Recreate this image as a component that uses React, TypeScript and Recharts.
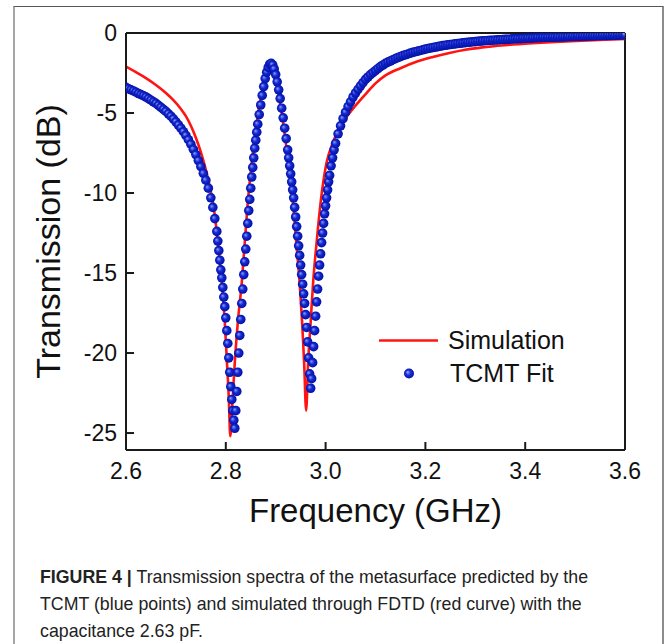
import { ComposedChart, Scatter, Line, XAxis, YAxis, ReferenceLine, Legend } from 'recharts';

// FDTD simulation (red curve)
const simFreq = [
  2.6, 2.62, 2.64, 2.66, 2.68, 2.695, 2.71, 2.72, 2.73, 2.74, 2.75, 2.76, 2.77, 2.778, 2.785, 2.792, 2.798,
  2.802, 2.806, 2.809, 2.812, 2.818, 2.824, 2.832, 2.838, 2.844, 2.852, 2.862, 2.872, 2.88, 2.888,
  2.896, 2.904, 2.912, 2.92, 2.928, 2.936, 2.942, 2.948, 2.953, 2.957, 2.961, 2.965, 2.97, 2.975,
  2.982, 2.99, 3.002, 3.014, 3.028, 3.048, 3.065, 3.082, 3.1, 3.12, 3.15, 3.182, 3.215, 3.248, 3.28,
  3.314, 3.36, 3.414, 3.46, 3.514, 3.56, 3.6,
];
const simDb = [
  -2.1, -2.45, -2.82, -3.25, -3.75, -4.2, -4.75, -5.2, -5.8, -6.55, -7.45, -8.55, -9.9, -11.4, -13.4, -15.6, -18.1,
  -20.4, -22.8, -25.2, -23.8, -20.6, -18.1, -15.6, -13.1, -10.6, -8.1, -5.6, -3.75, -2.75, -2.4,
  -2.65, -3.6, -5.0, -6.8, -8.9, -11.1, -13.4, -15.6, -18.1, -20.6, -23.6, -20.6, -18.1, -15.6,
  -13.1, -10.6, -8.1, -6.9, -5.9, -5.0, -4.35, -3.75, -3.15, -2.65, -2.2, -1.8, -1.5, -1.25, -1.05,
  -0.9, -0.76, -0.64, -0.56, -0.48, -0.42, -0.37,
];

// TCMT fit (blue points)
const fitFreq = [
  2.6, 2.605, 2.61, 2.615, 2.62, 2.625, 2.63, 2.635, 2.64, 2.645,
  2.65, 2.655, 2.66, 2.665, 2.67, 2.675, 2.68, 2.685, 2.69, 2.695,
  2.7, 2.705, 2.71, 2.715, 2.72, 2.725, 2.73, 2.735, 2.74, 2.745,
  2.75, 2.755, 2.76, 2.765, 2.77, 2.774, 2.778, 2.782, 2.784, 2.786,
  2.788, 2.79, 2.792, 2.794, 2.796, 2.798, 2.8, 2.802, 2.804, 2.806,
  2.808, 2.81, 2.812, 2.814, 2.816, 2.818, 2.82, 2.822, 2.824, 2.826,
  2.828, 2.83, 2.832, 2.834, 2.836, 2.838, 2.84, 2.842, 2.844, 2.846,
  2.848, 2.85, 2.852, 2.854, 2.856, 2.858, 2.86, 2.862, 2.864, 2.867,
  2.87, 2.873, 2.876, 2.879, 2.882, 2.885, 2.888, 2.891, 2.894, 2.897,
  2.9, 2.903, 2.906, 2.909, 2.912, 2.915, 2.918, 2.921, 2.924, 2.926,
  2.928, 2.93, 2.932, 2.934, 2.936, 2.938, 2.94, 2.942, 2.944, 2.946,
  2.948, 2.95, 2.952, 2.954, 2.956, 2.958, 2.96, 2.962, 2.964, 2.966,
  2.968, 2.97, 2.972, 2.974, 2.976, 2.978, 2.98, 2.982, 2.984, 2.986,
  2.988, 2.99, 2.992, 2.994, 2.996, 2.998, 3.0, 3.002, 3.004, 3.006,
  3.008, 3.011, 3.014, 3.017, 3.02, 3.025, 3.03, 3.035, 3.04, 3.045,
  3.05, 3.055, 3.06, 3.065, 3.07, 3.075, 3.08, 3.085, 3.09, 3.095,
  3.1, 3.105, 3.11, 3.115, 3.12, 3.125, 3.13, 3.135, 3.14, 3.145,
  3.15, 3.155, 3.16, 3.165, 3.17, 3.175, 3.18, 3.185, 3.19, 3.195,
  3.2, 3.205, 3.21, 3.215, 3.22, 3.225, 3.23, 3.235, 3.24, 3.245,
  3.25, 3.255, 3.26, 3.265, 3.27, 3.275, 3.28, 3.285, 3.29, 3.295,
  3.3, 3.305, 3.31, 3.315, 3.32, 3.325, 3.33, 3.335, 3.34, 3.345,
  3.35, 3.355, 3.36, 3.365, 3.37, 3.375, 3.38, 3.385, 3.39, 3.395,
  3.4, 3.405, 3.41, 3.415, 3.42, 3.425, 3.43, 3.435, 3.44, 3.445,
  3.45, 3.455, 3.46, 3.465, 3.47, 3.475, 3.48, 3.485, 3.49, 3.495,
  3.5, 3.505, 3.51, 3.515, 3.52, 3.525, 3.53, 3.535, 3.54, 3.545,
  3.55, 3.555, 3.56, 3.565, 3.57, 3.575, 3.58, 3.585, 3.59, 3.595,
  3.6,
];
const fitDb = [
  -3.4, -3.48, -3.55, -3.62, -3.7, -3.78, -3.85, -3.92, -4.0, -4.1,
  -4.2, -4.3, -4.4, -4.52, -4.65, -4.77, -4.9, -5.05, -5.2, -5.37,
  -5.55, -5.75, -5.95, -6.17, -6.4, -6.67, -6.95, -7.27, -7.6, -7.97,
  -8.35, -8.77, -9.2, -9.7, -10.3, -10.9, -11.6, -12.4, -13.0, -13.6,
  -14.2, -14.8, -15.3, -15.9, -16.5, -17.1, -17.8, -18.6, -19.4, -20.3,
  -21.2, -22.1, -22.9, -23.6, -24.2, -24.7, -23.6, -22.4, -21.2, -20.0,
  -18.9, -17.9, -16.9, -16.0, -15.1, -14.3, -13.5, -12.7, -11.9, -11.1,
  -10.4, -9.7, -9.0, -8.4, -7.8, -7.2, -6.7, -6.2, -5.7, -5.1,
  -4.5, -3.9, -3.35, -2.85, -2.45, -2.15, -1.95, -1.9, -2.0, -2.25,
  -2.6, -3.05, -3.55, -4.1, -4.7, -5.3, -5.95, -6.6, -7.3, -7.8,
  -8.3, -8.8, -9.3, -9.8, -10.3, -10.9, -11.5, -12.1, -12.7, -13.3,
  -13.9, -14.5, -15.1, -15.7, -16.3, -16.9, -17.6, -18.4, -19.3, -20.3,
  -21.3, -22.2, -21.6, -20.6, -19.6, -18.6, -17.7, -16.8, -16.0, -15.2,
  -14.5, -13.8, -13.1, -12.5, -11.9, -11.3, -10.8, -10.3, -9.8, -9.3,
  -8.9, -8.3, -7.8, -7.3, -6.9, -6.3, -5.8, -5.35, -4.95, -4.6,
  -4.3, -4.0, -3.75, -3.52, -3.3, -3.1, -2.9, -2.75, -2.6, -2.47,
  -2.35, -2.22, -2.1, -2.0, -1.9, -1.82, -1.75, -1.67, -1.6, -1.53,
  -1.47, -1.41, -1.36, -1.31, -1.26, -1.21, -1.17, -1.13, -1.09, -1.05,
  -1.01, -0.97, -0.94, -0.91, -0.88, -0.85, -0.82, -0.79, -0.77, -0.74,
  -0.72, -0.7, -0.68, -0.66, -0.64, -0.62, -0.6, -0.58, -0.57, -0.55,
  -0.54, -0.52, -0.51, -0.49, -0.48, -0.47, -0.46, -0.45, -0.44, -0.43,
  -0.42, -0.41, -0.4, -0.39, -0.38, -0.37, -0.36, -0.35, -0.35, -0.34,
  -0.33, -0.32, -0.32, -0.31, -0.3, -0.29, -0.29, -0.28, -0.28, -0.27,
  -0.27, -0.26, -0.26, -0.25, -0.25, -0.24, -0.24, -0.23, -0.23, -0.22,
  -0.22, -0.21, -0.21, -0.2, -0.2, -0.19, -0.19, -0.18, -0.18, -0.17,
  -0.17, -0.16, -0.16, -0.15, -0.15, -0.14, -0.14, -0.13, -0.13, -0.12,
  -0.12,
];

const xTicks = [2.6, 2.8, 3.0, 3.2, 3.4, 3.6];
const yTicks = [0, -5, -10, -15, -20, -25];

const simData = simFreq.map((f, i) => ({ f, db: simDb[i] }));
const fitData = fitFreq.map((f, i) => ({ f, db: fitDb[i] }));

const FONT = "'Liberation Sans', Arial, Helvetica, sans-serif";
const RED = '#ff1414';

function Sphere(props: any) {
  const { cx, cy } = props;
  if (cx == null || cy == null) return null;
  return <circle cx={cx} cy={cy} r={4.8} fill="url(#tcmtSphere)" />;
}

function LegendBox() {
  return (
    <div style={{ fontFamily: FONT, fontSize: 25, color: '#111', lineHeight: '33px' }}>
      <div style={{ display: 'flex', alignItems: 'center', height: 33 }}>
        <svg width={76} height={33}>
          <line x1={7} x2={66} y1={16.5} y2={16.5} stroke={RED} strokeWidth={2.6} />
        </svg>
        <span>Simulation</span>
      </div>
      <div style={{ display: 'flex', alignItems: 'center', height: 33 }}>
        <svg width={78} height={33}>
          <defs>
            <radialGradient id="legendSphere" cx="50%" cy="50%" r="55%" fx="35%" fy="35%">
              <stop offset="0%" stopColor="#9fb0ff" />
              <stop offset="45%" stopColor="#1a2fd8" />
              <stop offset="100%" stopColor="#0010a0" />
            </radialGradient>
          </defs>
          <circle cx={37} cy={16.5} r={5} fill="url(#legendSphere)" />
        </svg>
        <span>TCMT Fit</span>
      </div>
    </div>
  );
}

function XTitle(props: any) {
  const vb = props.viewBox || { x: 126, y: 450, width: 499 };
  return (
    <text x={vb.x + vb.width / 2} y={vb.y + 72} textAnchor="middle" fontFamily={FONT} fontSize={33} fill="#111">
      Frequency (GHz)
    </text>
  );
}

function YTitle(props: any) {
  const vb = props.viewBox || { x: 66, y: 33, height: 417 };
  const x = vb.x - 6;
  const y = vb.y + vb.height / 2;
  return (
    <text x={x} y={y} transform={`rotate(-90 ${x} ${y})`} textAnchor="middle" fontFamily={FONT} fontSize={34} fill="#111">
      Transmission (dB)
    </text>
  );
}

export default function App() {
  const axisStroke = { stroke: '#1a1a1a', strokeWidth: 2 };
  const tickStyle = { fill: '#111', fontSize: 23, fontFamily: FONT };
  return (
    <div style={{ position: 'absolute', left: 0, top: 0, width: 665, height: 644, overflow: 'hidden', background: '#fff' }}>
      <div
        style={{
          position: 'absolute', left: 13, top: 6, width: 647, height: 700,
          borderLeft: '2px solid #a6a6a6', borderRight: '2px solid #8c8c8c', borderTop: '1.5px solid #555',
        }}
      />
      <div style={{ position: 'absolute', left: 0, top: 0 }}>
        <ComposedChart width={665} height={540} margin={{ top: 33, right: 40, left: 66, bottom: 30 }}>
          <defs>
            <radialGradient id="tcmtSphere" cx="50%" cy="50%" r="55%" fx="35%" fy="35%">
              <stop offset="0%" stopColor="#8c9eff" />
              <stop offset="45%" stopColor="#1428d0" />
              <stop offset="100%" stopColor="#000c9c" />
            </radialGradient>
          </defs>
          <XAxis
            type="number"
            dataKey="f"
            domain={[2.6, 3.6]}
            ticks={xTicks}
            allowDataOverflow
            height={60}
            tickSize={-8}
            tickMargin={21}
            tickFormatter={(v: number) => v.toFixed(1)}
            tick={tickStyle}
            axisLine={axisStroke}
            tickLine={axisStroke}
            label={<XTitle />}
          />
          <YAxis
            type="number"
            dataKey="db"
            domain={[-26.06, 0]}
            ticks={yTicks}
            allowDataOverflow
            width={60}
            tickSize={-8}
            tickMargin={17}
            tick={tickStyle}
            axisLine={axisStroke}
            tickLine={axisStroke}
            label={<YTitle />}
          />
          <ReferenceLine y={0} stroke="#1a1a1a" strokeWidth={2} />
          <ReferenceLine x={3.6} stroke="#1a1a1a" strokeWidth={2} />
          <Scatter name="TCMT Fit" data={fitData} dataKey="db" fill="#0b1fc4" shape={<Sphere />} isAnimationActive={false} />
          <Line
            name="Simulation"
            data={simData}
            dataKey="db"
            type="monotone"
            stroke={RED}
            strokeWidth={2.6}
            dot={false}
            activeDot={false}
            isAnimationActive={false}
          />
          <Legend
            content={<LegendBox />}
            layout="vertical"
            align="center"
            verticalAlign="middle"
            wrapperStyle={{ left: 372, top: 324, width: 220, height: 66 }}
          />
        </ComposedChart>
      </div>
      <div
        style={{
          position: 'absolute', left: 40, top: 563, width: 660, fontFamily: FONT,
          fontSize: 19, lineHeight: '27px', color: '#222', whiteSpace: 'nowrap',
          transform: 'scaleX(0.935)', transformOrigin: 'left top',
        }}
      >
        <div><b>FIGURE 4 |</b> Transmission spectra of the metasurface predicted by the</div>
        <div>TCMT (blue points) and simulated through FDTD (red curve) with the</div>
        <div>capacitance 2.63 pF.</div>
      </div>
    </div>
  );
}
